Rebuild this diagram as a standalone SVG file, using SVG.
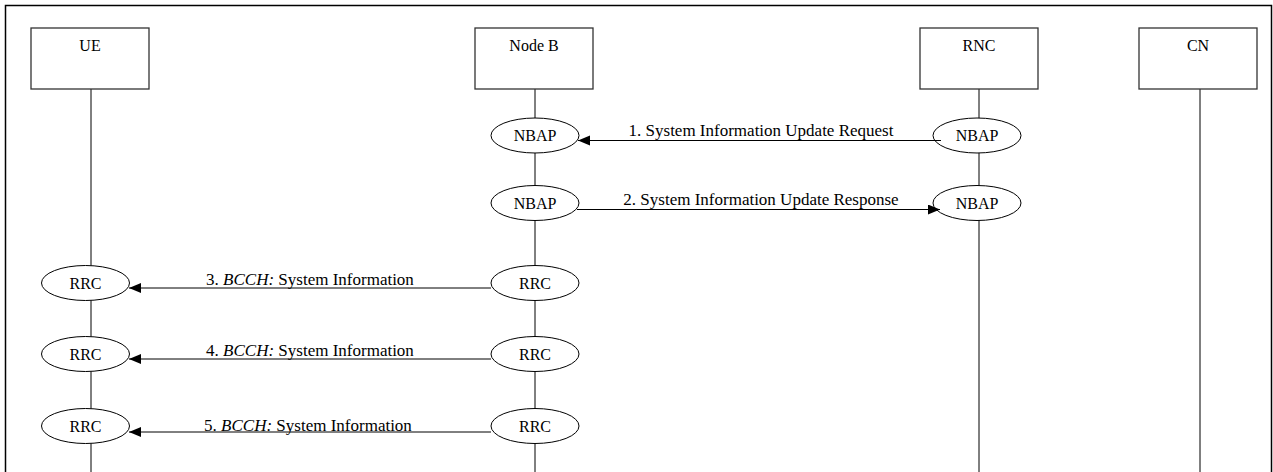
<svg xmlns="http://www.w3.org/2000/svg" width="1273" height="472" viewBox="0 0 1273 472">
<style>
text{font-family:"Liberation Serif","Times New Roman",serif;font-size:16px;fill:#000;text-anchor:middle}
.lbl{font-size:17px}
.box{fill:#fff;stroke:#333;stroke-width:1.3}
.life{stroke:#000;stroke-width:1}
.ell{fill:#fff;stroke:#000;stroke-width:1}
.msg{stroke:#000;stroke-width:1;fill:none;marker-end:url(#ah)}
</style>
<defs>
<marker id="ah" markerUnits="userSpaceOnUse" markerWidth="13" markerHeight="11" refX="12" refY="5" orient="auto">
<path d="M0,0 L12,5 L0,10 z" fill="#000"/>
</marker>
</defs>
<rect x="5.5" y="5.5" width="1266" height="480" fill="#fff" stroke="#000" stroke-width="1.5"/>
<g id="UE">
<line class="life" x1="91" y1="89" x2="91" y2="472"/>
<rect class="box" x="31" y="28" width="118" height="61"/>
<text x="90" y="51">UE</text>
</g>
<g id="NodeB">
<line class="life" x1="535" y1="89" x2="535" y2="472"/>
<rect class="box" x="475" y="28" width="118" height="61"/>
<text x="534" y="51">Node B</text>
</g>
<g id="RNC">
<line class="life" x1="979" y1="89" x2="979" y2="472"/>
<rect class="box" x="920" y="28" width="118" height="61"/>
<text x="979" y="51">RNC</text>
</g>
<g id="CN">
<line class="life" x1="1200" y1="89" x2="1200" y2="472"/>
<rect class="box" x="1139" y="28" width="118" height="61"/>
<text x="1198" y="51">CN</text>
</g>
<g id="NodeB_NBAP1"><ellipse class="ell" cx="535" cy="135.5" rx="44" ry="17.5"/><text x="535" y="141">NBAP</text></g>
<g id="RNC_NBAP1"><ellipse class="ell" cx="977" cy="135.5" rx="44" ry="17.5"/><text x="977" y="141">NBAP</text></g>
<g id="NodeB_NBAP2"><ellipse class="ell" cx="535" cy="203" rx="44" ry="17.5"/><text x="535" y="208.5">NBAP</text></g>
<g id="RNC_NBAP2"><ellipse class="ell" cx="977" cy="203" rx="44" ry="17.5"/><text x="977" y="208.5">NBAP</text></g>
<g id="UE_RRC3"><ellipse class="ell" cx="85.5" cy="283" rx="44" ry="17.5"/><text x="85.5" y="288.5">RRC</text></g>
<g id="NodeB_RRC3"><ellipse class="ell" cx="535" cy="283" rx="44" ry="17.5"/><text x="535" y="288.5">RRC</text></g>
<g id="UE_RRC4"><ellipse class="ell" cx="85.5" cy="354" rx="44" ry="17.5"/><text x="85.5" y="359.5">RRC</text></g>
<g id="NodeB_RRC4"><ellipse class="ell" cx="535" cy="354" rx="44" ry="17.5"/><text x="535" y="359.5">RRC</text></g>
<g id="UE_RRC5"><ellipse class="ell" cx="85.5" cy="426" rx="44" ry="17.5"/><text x="85.5" y="431.5">RRC</text></g>
<g id="NodeB_RRC5"><ellipse class="ell" cx="535" cy="426" rx="44" ry="17.5"/><text x="535" y="431.5">RRC</text></g>
<g id="connectors">
<line class="msg" x1="941" y1="140.5" x2="578" y2="140.5"/>
<text class="lbl" x="761" y="136">1. System Information Update Request</text>
<line class="msg" x1="577" y1="209.5" x2="940" y2="209.5"/>
<text class="lbl" x="761" y="204.5">2. System Information Update Response</text>
<line class="msg" x1="491" y1="288" x2="129" y2="288"/>
<text class="lbl" x="310" y="285">3. <tspan font-style="italic">BCCH:</tspan> System Information</text>
<line class="msg" x1="491" y1="359" x2="129" y2="359"/>
<text class="lbl" x="310" y="356">4. <tspan font-style="italic">BCCH:</tspan> System Information</text>
<line class="msg" x1="491" y1="432" x2="129" y2="432"/>
<text class="lbl" x="308" y="431">5. <tspan font-style="italic">BCCH:</tspan> System Information</text>
</g>
</svg>
